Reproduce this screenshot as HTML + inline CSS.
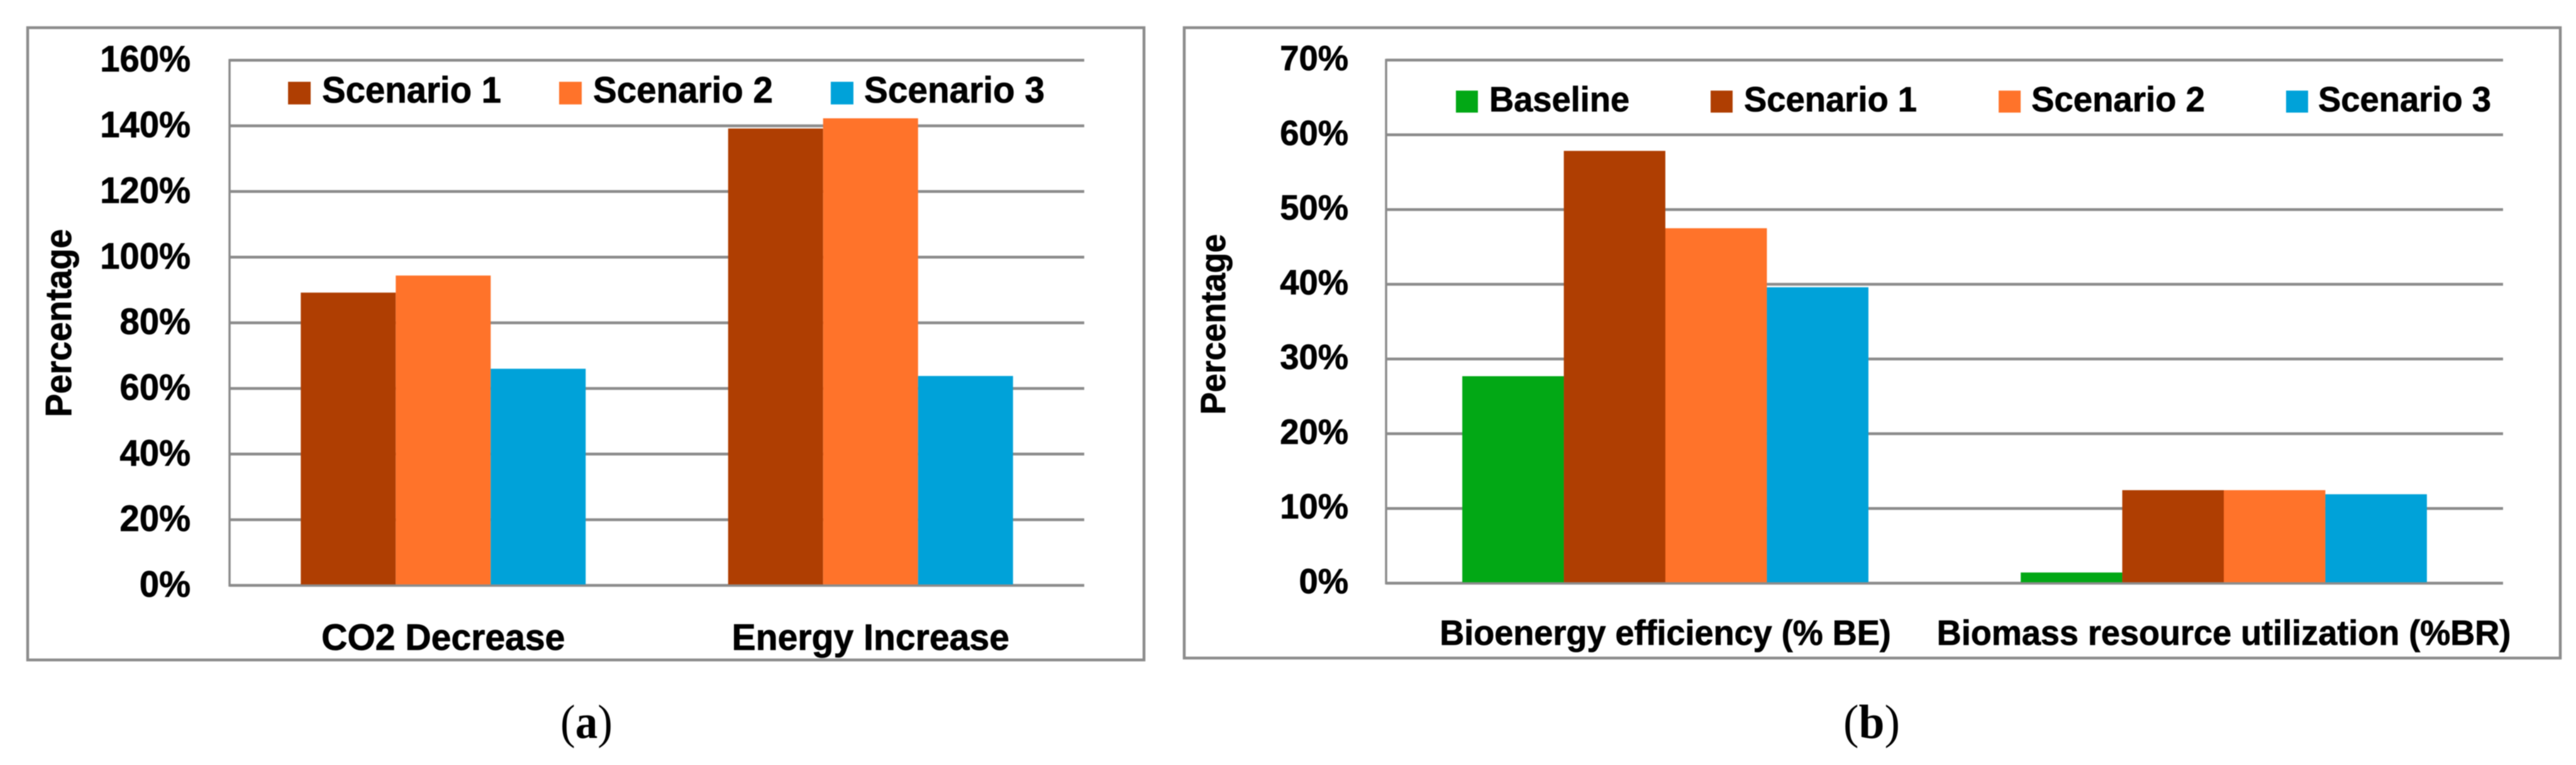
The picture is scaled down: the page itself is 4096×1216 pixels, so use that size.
<!DOCTYPE html>
<html lang="en">
<head>
<meta charset="utf-8">
<title>Scenario comparison charts</title>
<style>
html,body{margin:0;padding:0;background:#fff;width:4096px;height:1216px;overflow:hidden}
svg{display:block;filter:blur(0.7px)}
text{font-family:"Liberation Sans",sans-serif;font-weight:bold;fill:#000;stroke:#000;stroke-width:0.8px}
.caption{font-family:"Liberation Serif",serif;font-weight:normal;font-size:76px;stroke-width:0}
</style>
</head>
<body>
<svg id="figure" xmlns="http://www.w3.org/2000/svg" width="4096" height="1216" viewBox="0 0 4096 1216">
  <rect width="4096" height="1216" fill="#fff"/>

  <g id="chart-a">
    <rect x="44" y="44" width="1775" height="1005" fill="#fff" stroke="#8c8c8c" stroke-width="4.5"/>
    <text transform="translate(113,663) rotate(-90)" font-size="58" textLength="299" lengthAdjust="spacingAndGlyphs">Percentage</text>
    <g id="chart-a-marks"></g>
    <g font-size="58">
      <g>
        <rect x="458" y="130" width="36" height="36" fill="#af3e02"/>
        <text x="512" y="163" textLength="285" lengthAdjust="spacingAndGlyphs">Scenario 1</text>
      </g>
      <g>
        <rect x="889" y="130" width="36" height="36" fill="#ff732a"/>
        <text x="943" y="163" textLength="286" lengthAdjust="spacingAndGlyphs">Scenario 2</text>
      </g>
      <g>
        <rect x="1321" y="130" width="36" height="36" fill="#00a2d9"/>
        <text x="1374" y="163" textLength="287" lengthAdjust="spacingAndGlyphs">Scenario 3</text>
      </g>
    </g>
    <text class="caption" x="891" y="1173" textLength="83" lengthAdjust="spacingAndGlyphs">(<tspan font-weight="bold">a</tspan>)</text>
  </g>

  <g id="chart-b">
    <rect x="1883" y="44" width="2188" height="1002" fill="#fff" stroke="#8c8c8c" stroke-width="4.5"/>
    <text transform="translate(1948,659) rotate(-90)" font-size="56" textLength="287" lengthAdjust="spacingAndGlyphs">Percentage</text>
    <g id="chart-b-marks"></g>
    <g font-size="56">
      <g>
        <rect x="2315" y="144" width="35" height="35" fill="#02a815"/>
        <text x="2368" y="177" textLength="223" lengthAdjust="spacingAndGlyphs">Baseline</text>
      </g>
      <g>
        <rect x="2720" y="144" width="35" height="35" fill="#af3e02"/>
        <text x="2773" y="177" textLength="275" lengthAdjust="spacingAndGlyphs">Scenario 1</text>
      </g>
      <g>
        <rect x="3178" y="144" width="35" height="35" fill="#ff732a"/>
        <text x="3230" y="177" textLength="276" lengthAdjust="spacingAndGlyphs">Scenario 2</text>
      </g>
      <g>
        <rect x="3635" y="144" width="35" height="35" fill="#00a2d9"/>
        <text x="3686" y="177" textLength="275" lengthAdjust="spacingAndGlyphs">Scenario 3</text>
      </g>
    </g>
    <text class="caption" x="2931" y="1173" textLength="90" lengthAdjust="spacingAndGlyphs">(<tspan font-weight="bold">b</tspan>)</text>
  </g>
</svg>
<script>
// Chart (a) data
const aCategories = ["CO2 Decrease", "Energy Increase"];
const aTickValues = [0, 20, 40, 60, 80, 100, 120, 140, 160];
const aScenario1 = [89.2, 139.2];
const aScenario2 = [94.4, 142.3];
const aScenario3 = [66.0, 63.8];

// Chart (b) data
const bCategories = ["Bioenergy efficiency (% BE)", "Biomass resource utilization (%BR)"];
const bTickValues = [0, 10, 20, 30, 40, 50, 60, 70];
const bBaseline = [27.7, 1.43];
const bScenario1 = [57.85, 12.45];
const bScenario2 = [47.5, 12.45];
const bScenario3 = [39.6, 11.9];

const SVG_NS = "http://www.w3.org/2000/svg";
const BROWN = "#af3e02", ORANGE = "#ff732a", BLUE = "#00a2d9", GREEN = "#02a815", GRID = "#8c8c8c";

function drawChart(cfg) {
  const root = document.getElementById(cfg.rootId);
  const maxTick = Math.max.apply(null, cfg.ticks);
  const yScale = function (v) { return cfg.y0 - (v / maxTick) * (cfg.y0 - cfg.yTop); };
  const catWidth = (cfg.xRight - cfg.xLeft) / cfg.categories.length;
  const barWidth = catWidth / (cfg.series.length + 1.5);
  const xScale = function (catIndex, seriesIndex) {
    const start = cfg.xLeft + catIndex * catWidth + (catWidth - barWidth * cfg.series.length) / 2;
    return start + seriesIndex * barWidth;
  };

  cfg.ticks.forEach(function (tick) {
    const line = document.createElementNS(SVG_NS, "line");
    
    
    line.setAttribute("x1", cfg.xLeft);
    line.setAttribute("x2", cfg.xRight);
    line.setAttribute("y1", yScale(tick));
    line.setAttribute("y2", yScale(tick));
    line.setAttribute("stroke", GRID);
    line.setAttribute("stroke-width", "4.5");
    root.appendChild(line);

    const label = document.createElementNS(SVG_NS, "text");
    
    
    label.setAttribute("text-anchor", "end");
    label.setAttribute("font-size", cfg.tickFont);
    label.setAttribute("transform", "translate(" + cfg.tickRight + "," + (yScale(tick) + cfg.tickDrop) + ") scale(" + cfg.tickSquash + ",1)");
    label.textContent = tick + "%";
    root.appendChild(label);
  });

  const axis = document.createElementNS(SVG_NS, "line");
  
  
  axis.setAttribute("x1", cfg.xLeft);
  axis.setAttribute("x2", cfg.xLeft);
  axis.setAttribute("y1", cfg.yTop - 2);
  axis.setAttribute("y2", cfg.y0 + 2);
  axis.setAttribute("stroke", GRID);
  axis.setAttribute("stroke-width", "3.5");
  root.appendChild(axis);

  cfg.series.forEach(function (series, s) {
    series.values.forEach(function (value, c) {
      const bar = document.createElementNS(SVG_NS, "rect");
      
      
      bar.setAttribute("x", xScale(c, s));
      bar.setAttribute("y", yScale(value));
      bar.setAttribute("width", barWidth);
      bar.setAttribute("height", cfg.y0 - 1.5 - yScale(value));
      bar.setAttribute("fill", series.color);
      root.appendChild(bar);
    });
  });

  cfg.categories.forEach(function (name, c) {
    const label = document.createElementNS(SVG_NS, "text");
    
    
    label.setAttribute("text-anchor", "middle");
    label.setAttribute("font-size", cfg.catFont);
    label.setAttribute("transform", "translate(" + (cfg.xLeft + (c + 0.5) * catWidth) + "," + cfg.catBaseline + ") scale(" + cfg.catSquash + ",1)");
    label.textContent = name;
    root.appendChild(label);
  });
}

drawChart({
  rootId: "chart-a-marks",
  categories: aCategories,
  ticks: aTickValues,
  series: [
    { values: aScenario1, color: BROWN },
    { values: aScenario2, color: ORANGE },
    { values: aScenario3, color: BLUE }
  ],
  xLeft: 365, xRight: 1724, y0: 930.5, yTop: 95.7,
  tickRight: 303, tickDrop: 18, tickFont: 58, tickSquash: 0.97,
  catBaseline: 1033, catFont: 58, catSquash: 0.985
});

drawChart({
  rootId: "chart-b-marks",
  categories: bCategories,
  ticks: bTickValues,
  series: [
    { values: bBaseline, color: GREEN },
    { values: bScenario1, color: BROWN },
    { values: bScenario2, color: ORANGE },
    { values: bScenario3, color: BLUE }
  ],
  xLeft: 2204, xRight: 3980, y0: 927, yTop: 95.5,
  tickRight: 2144, tickDrop: 16, tickFont: 56, tickSquash: 0.97,
  catBaseline: 1025, catFont: 56, catSquash: 0.965
});
</script>
</body>
</html>
